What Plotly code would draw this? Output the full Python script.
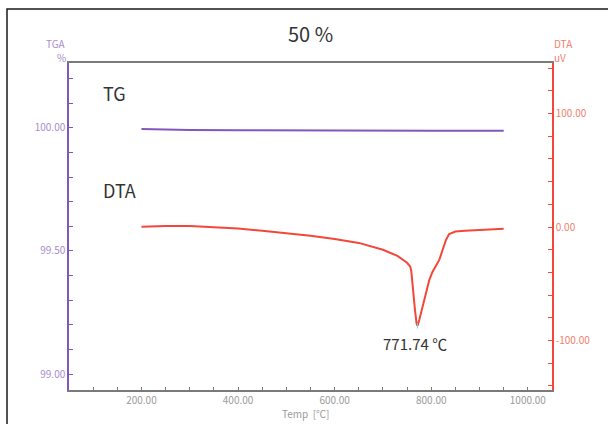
import plotly.graph_objects as go

# ---- data ----
tg_temp = [200, 250, 300, 400, 500, 600, 700, 800, 950]
tg_val = [99.996, 99.993, 99.992, 99.991, 99.990, 99.989, 99.989, 99.989, 99.989]

dta_temp = [200, 250, 300, 350, 400, 450, 500, 550, 600, 650, 700, 730, 750, 756.6,
            758.6, 761.3, 763.4, 766.3, 769.6, 771.74, 775.2, 782, 789, 795.9, 802.7,
            811, 816.6, 823.4, 830.4, 837, 844, 850, 870, 900, 950]
dta_val = [0.3, 0.9, 0.8, 0.0, -1.3, -3.3, -5.3, -7.8, -10.5, -14.0, -20.0, -25.5, -31.5, -35.0,
           -38.5, -52.6, -61.4, -73.0, -84.9, -87.0, -81.9, -70.2, -58.1, -46.7, -39.4,
           -33.5, -29.0, -20.3, -11.5, -6.2, -4.7, -4.0, -3.4, -2.9, -1.5]

peak_temp = 771.74
peak_val = -87.0
peak_label = "771.74 ℃"

# tick positions (major labelled, minor blank)
x_ticks = [100, 150, 200, 250, 300, 350, 400, 450, 500, 550, 600, 650, 700, 750, 800, 850, 900, 950, 1000]
x_ticktext = ["", "", "200.00", "", "", "", "400.00", "", "", "", "600.00", "", "", "", "800.00", "", "", "", "1000.00"]
y1_ticks = [99.0, 99.1, 99.2, 99.3, 99.4, 99.5, 99.6, 99.7, 99.8, 99.9, 100.0, 100.1, 100.2]
y1_ticktext = ["99.00", "", "", "", "", "99.50", "", "", "", "", "100.00", "", ""]
y2_ticks = [-140, -120, -100, -80, -60, -40, -20, 0, 20, 40, 60, 80, 100, 120, 140]
y2_ticktext = ["", "", "-100.00", "", "", "", "", "0.00", "", "", "", "", "100.00", "", ""]

FONT = "Noto Sans CJK JP"
PURPLE = "#8257bd"
PURPLE_TXT = "#a88ccc"
RED = "#f2473a"
RED_TXT = "#f0806e"
GRAY = "#7a7a7a"
GRAY_TXT = "#9a9a9a"

fig = go.Figure()
fig.add_trace(go.Scatter(x=tg_temp, y=tg_val, mode="lines",
                         line=dict(color=PURPLE, width=2), yaxis="y", showlegend=False,
                         hoverinfo="skip"))
fig.add_trace(go.Scatter(x=dta_temp, y=dta_val, mode="lines",
                         line=dict(color=RED, width=2), yaxis="y2", showlegend=False,
                         hoverinfo="skip"))
fig.add_trace(go.Scatter(x=[peak_temp], y=[peak_val], mode="markers",
                         marker=dict(symbol="line-ns", size=4, line=dict(color="#6fd3e0", width=1)),
                         yaxis="y2", showlegend=False, hoverinfo="skip"))

fig.update_layout(
    width=608, height=424,
    margin=dict(l=69, r=56, t=63, b=34),
    paper_bgcolor="white", plot_bgcolor="white",
    font=dict(family=FONT, size=10, color=GRAY_TXT),
    xaxis=dict(range=[50, 1050], tickmode="array", tickvals=x_ticks, ticktext=x_ticktext,
               ticks="inside", ticklen=3, tickcolor=GRAY, showline=True, linecolor=GRAY,
               linewidth=1.5, mirror=True, showgrid=False, zeroline=False,
               tickfont=dict(color=GRAY_TXT, size=10, family=FONT)),
    yaxis=dict(range=[98.935, 100.264], tickmode="array", tickvals=y1_ticks, ticktext=y1_ticktext,
               ticks="inside", ticklen=4, tickcolor=PURPLE, showline=True, linecolor=PURPLE,
               linewidth=1.5, showgrid=False, zeroline=False,
               tickfont=dict(color=PURPLE_TXT, size=10, family=FONT)),
    yaxis2=dict(range=[-143.6, 144.5], tickmode="array", tickvals=y2_ticks, ticktext=y2_ticktext,
                overlaying="y", side="right",
                ticks="inside", ticklen=4, tickcolor=RED, showline=True, linecolor=RED,
                linewidth=1.5, showgrid=False, zeroline=False,
                tickfont=dict(color=RED_TXT, size=10, family=FONT)),
)

# outer frame
fig.add_shape(type="rect", xref="paper", yref="paper",
              x0=(7 - 69) / 483, x1=(640 - 69) / 483,
              y0=(390 - 460) / 327, y1=(390 - 9) / 327,
              line=dict(color="#1a1a1a", width=1.5), fillcolor="rgba(0,0,0,0)", layer="below")

ann = [
    dict(text="50 %", x=(310 - 69) / 483, y=(390 - 33) / 327, size=20, color="#333333", xanchor="center"),
    dict(text="TG", x=(101 - 69) / 483, y=(390 - 93) / 327, size=18, color="#333333", xanchor="left"),
    dict(text="DTA", x=(101 - 69) / 483, y=(390 - 190) / 327, size=18, color="#333333", xanchor="left"),
    dict(text="TGA", x=(68 - 69) / 483, y=(390 - 43) / 327, size=10, color=PURPLE_TXT, xanchor="right"),
    dict(text="%", x=(68 - 69) / 483, y=(390 - 57) / 327, size=10, color=PURPLE_TXT, xanchor="right"),
    dict(text="DTA", x=(552 - 69) / 483, y=(390 - 43) / 327, size=10, color=RED_TXT, xanchor="left"),
    dict(text="uV", x=(552 - 69) / 483, y=(390 - 57) / 327, size=10, color=RED_TXT, xanchor="left"),
    dict(text="Temp  [℃]", x=(306 - 69) / 483, y=(390 - 413) / 327, size=10, color=GRAY_TXT, xanchor="center"),
]
for a in ann:
    fig.add_annotation(text=a["text"], x=a["x"], y=a["y"], xref="paper", yref="paper",
                       xanchor=a["xanchor"], yanchor="middle", showarrow=False,
                       font=dict(family=FONT, size=a["size"], color=a["color"]))

fig.add_annotation(text=peak_label, x=peak_temp, y=peak_val, xref="x", yref="y2",
                   xanchor="center", yanchor="top", yshift=-5, xshift=-3, showarrow=False,
                   font=dict(family=FONT, size=15, color="#333333"))

fig.write_html("out.html")
